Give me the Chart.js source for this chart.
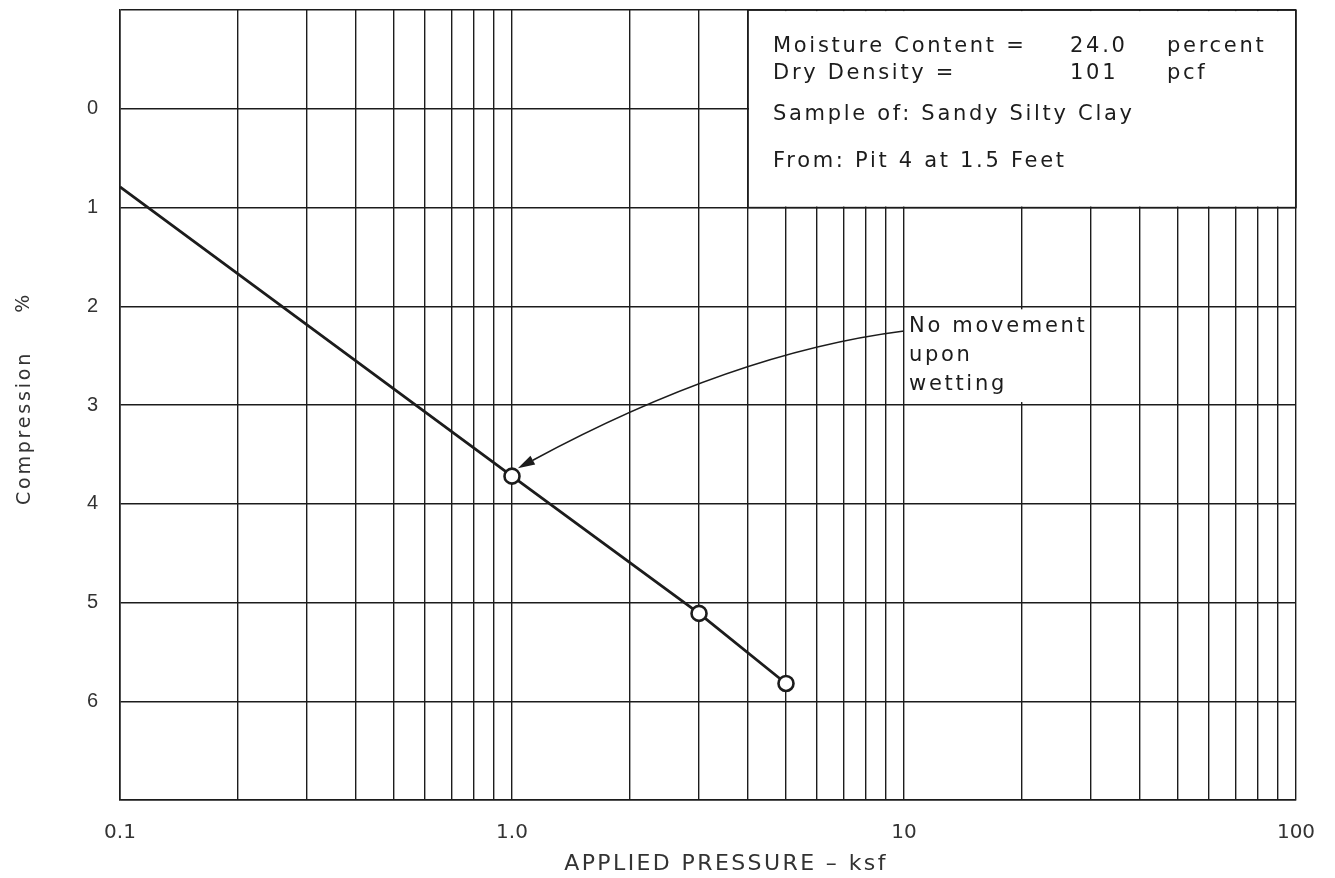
<!DOCTYPE html>
<html><head><meta charset="utf-8">
<script src="https://cdn.jsdelivr.net/npm/chart.js@4.4.1/dist/chart.umd.min.js"></script>
<style>html,body{margin:0;padding:0;background:#fff}canvas{display:block}</style>
</head><body>
<canvas id="c" width="1335" height="878"></canvas>
<script>
// ---- data ----
const pressureKsf = [0.1, 1.0, 3.0, 5.0];
const compressionPct = [0.79, 3.72, 5.11, 5.82];
const markerShown = [false, true, true, true];
const xGridValues = [0.1,0.2,0.3,0.4,0.5,0.6,0.7,0.8,0.9,1,2,3,4,5,6,7,8,9,10,20,30,40,50,60,70,80,90,100];
const xLabelValues = [0.1, 1, 10, 100];
const xLabelTexts = ['0.1', '1.0', '10', '100'];
const yGridValues = [-1,0,1,2,3,4,5,6,7];
const yLabelValues = [0,1,2,3,4,5,6];
const xTitle = 'APPLIED PRESSURE \u2013 ksf';
const yTitleWord = 'Compression';
const yTitleUnit = '%';
const infoRows = [
  ['Moisture Content =', '24.0', 'percent'],
  ['Dry Density =', '101', 'pcf'],
  ['Sample of: Sandy Silty Clay', '', ''],
  ['From: Pit 4 at 1.5 Feet', '', '']
];
const infoBoxRange = {xMin: 4, xMax: 100, yMin: -1, yMax: 1};
const noteLines = ['No movement', 'upon', 'wetting'];
const noteRange = {xMin: 10, xMax: 30, yMin: 2, yMax: 3};
const noteArrow = {from: [10, 2.25], via: [3.65, 2.47], to: [1.035, 3.64]};

const FONT = "'Liberation Sans', Arial, sans-serif";
const CAD = "'DejaVu Sans', 'Liberation Sans', sans-serif";
const INK = '#1c1c1c';

const overlay = {
  id: 'overlay',
  beforeDatasetsDraw(chart) {
    const {ctx, scales: {x, y}} = chart;
    ctx.save();
    ctx.fillStyle = '#fff';
    const bx1 = x.getPixelForValue(infoBoxRange.xMin), bx2 = x.getPixelForValue(infoBoxRange.xMax);
    const by1 = y.getPixelForValue(infoBoxRange.yMin), by2 = y.getPixelForValue(infoBoxRange.yMax);
    ctx.fillRect(bx1 + 1, by1 + 1, bx2 - bx1 - 2, by2 - by1 - 2);
    ctx.strokeStyle = INK; ctx.lineWidth = 1.5;
    ctx.strokeRect(bx1, by1, bx2 - bx1, by2 - by1);
    const nx1 = x.getPixelForValue(noteRange.xMin), nx2 = x.getPixelForValue(noteRange.xMax);
    const ny1 = y.getPixelForValue(noteRange.yMin), ny2 = y.getPixelForValue(noteRange.yMax);
    ctx.fillRect(nx1 + 2, ny1 + 3, nx2 - nx1 - 4, ny2 - ny1 - 6);
    ctx.restore();
  },
  afterDraw(chart) {
    const {ctx, chartArea, scales: {x, y}} = chart;
    ctx.save();
    ctx.fillStyle = INK;
    ctx.textBaseline = 'alphabetic';
    ctx.textAlign = 'left';
    ctx.font = '21px ' + CAD;
    ctx.letterSpacing = '2.7px';
    const bx = x.getPixelForValue(infoBoxRange.xMin);
    const top = y.getPixelForValue(infoBoxRange.yMin);
    const rowBase = [42, 69, 110, 157];
    const colX = [25, 322, 419];
    infoRows.forEach((row, i) => {
      row.forEach((t, j) => { if (t) ctx.fillText(t, bx + colX[j], top + rowBase[i]); });
    });
    const nx = x.getPixelForValue(noteRange.xMin);
    const ny = y.getPixelForValue(noteRange.yMin);
    noteLines.forEach((t, i) => ctx.fillText(t, nx + 5, ny + 26 + i * 29));
    // axis titles
    ctx.fillStyle = '#333';
    ctx.font = '22px ' + CAD;
    ctx.letterSpacing = '2.4px';
    ctx.textAlign = 'center';
    ctx.fillText(xTitle, (chartArea.left + chartArea.right) / 2 + 18, chart.height - 8);
    ctx.font = '19px ' + CAD;
    ctx.letterSpacing = '2.8px';
    ctx.save();
    ctx.translate(30, (chartArea.top + chartArea.bottom) / 2 + 23);
    ctx.rotate(-Math.PI / 2);
    ctx.fillText(yTitleWord, 0, 0);
    ctx.restore();
    ctx.save();
    ctx.translate(29, y.getPixelForValue(2) - 4);
    ctx.rotate(-Math.PI / 2);
    ctx.fillText(yTitleUnit, 0, 0);
    ctx.restore();
    // arrow
    ctx.letterSpacing = '0px';
    ctx.fillStyle = INK;
    const p0 = [x.getPixelForValue(noteArrow.from[0]), y.getPixelForValue(noteArrow.from[1])];
    const pc = [x.getPixelForValue(noteArrow.via[0]), y.getPixelForValue(noteArrow.via[1])];
    const p2 = [x.getPixelForValue(noteArrow.to[0]), y.getPixelForValue(noteArrow.to[1])];
    const dx = p2[0] - pc[0], dy = p2[1] - pc[1];
    const len = Math.hypot(dx, dy), ux = dx / len, uy = dy / len;
    const headL = 17, headW = 5;
    const base = [p2[0] - ux * headL, p2[1] - uy * headL];
    ctx.strokeStyle = INK; ctx.lineWidth = 1.6;
    ctx.beginPath();
    ctx.moveTo(p0[0], p0[1]);
    ctx.quadraticCurveTo(pc[0], pc[1], base[0], base[1]);
    ctx.stroke();
    ctx.beginPath();
    ctx.moveTo(p2[0], p2[1]);
    ctx.lineTo(base[0] - uy * headW, base[1] + ux * headW);
    ctx.lineTo(base[0] + uy * headW, base[1] - ux * headW);
    ctx.closePath();
    ctx.fill();
    ctx.restore();
  }
};

new Chart(document.getElementById('c'), {
  type: 'line',
  data: {
    datasets: [{
      data: pressureKsf.map((v, i) => ({x: v, y: compressionPct[i]})),
      borderColor: INK,
      borderWidth: 2.8,
      tension: 0,
      pointRadius: markerShown.map(m => m ? 7.5 : 0),
      pointBackgroundColor: '#fff',
      pointBorderColor: INK,
      pointBorderWidth: 2.6,
      clip: false
    }]
  },
  options: {
    responsive: false,
    animation: false,
    layout: {padding: {top: 10, right: 39, left: 0, bottom: 0}},
    plugins: {legend: {display: false}, tooltip: {enabled: false}},
    scales: {
      x: {
        type: 'logarithmic', min: 0.1, max: 100,
        afterBuildTicks: s => { s.ticks = xGridValues.map(v => ({value: v})); },
        afterFit: s => { s.height = 78; s.paddingLeft = 0; s.paddingRight = 0; },
        grid: {color: INK, lineWidth: 1.4, drawTicks: false},
        border: {color: INK, width: 1.6},
        ticks: {
          autoSkip: false, maxRotation: 0, minRotation: 0, padding: 21,
          color: '#333', font: {family: CAD, size: 20},
          callback: (v) => {
            const i = xLabelValues.findIndex(m => Math.abs(m - v) < 1e-9);
            return i >= 0 ? xLabelTexts[i] : '';
          }
        },
        title: {display: false}
      },
      y: {
        type: 'linear', min: -1, max: 7, reverse: true,
        afterBuildTicks: s => { s.ticks = yGridValues.map(v => ({value: v})); },
        afterFit: s => { s.width = 120; s.paddingTop = 0; s.paddingBottom = 0; },
        grid: {color: INK, lineWidth: 1.4, drawTicks: false},
        border: {color: INK, width: 1.6},
        ticks: {
          padding: 22, color: '#333', font: {family: FONT, size: 20},
          callback: (v) => yLabelValues.includes(v) ? String(v) : ''
        },
        title: {display: false}
      }
    }
  },
  plugins: [overlay]
});
</script>
</body></html>
